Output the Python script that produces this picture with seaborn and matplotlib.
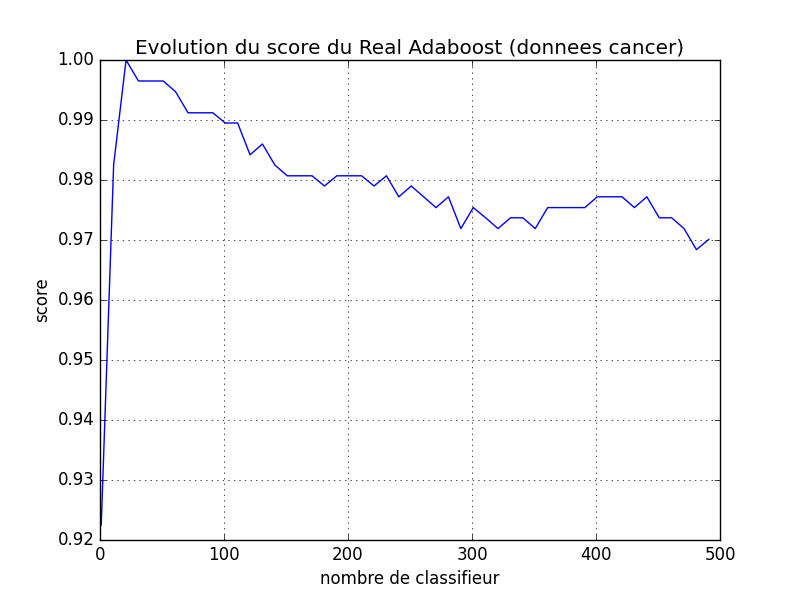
import matplotlib
matplotlib.use("Agg")
import matplotlib.pyplot as plt
import seaborn as sns
import pandas as pd

n_classif = list(range(1, 500, 10))
scores = [0.9225, 0.9825, 1.0, 0.9965, 0.9965, 0.9965, 0.9947, 0.9912, 0.9912, 0.9912,
          0.9895, 0.9895, 0.9842, 0.986, 0.9825, 0.9807, 0.9807, 0.9807, 0.979, 0.9807,
          0.9807, 0.9807, 0.979, 0.9807, 0.9772, 0.979, 0.9772, 0.9754, 0.9772, 0.9719,
          0.9754, 0.9737, 0.9719, 0.9737, 0.9737, 0.9719, 0.9754, 0.9754, 0.9754, 0.9754,
          0.9772, 0.9772, 0.9772, 0.9754, 0.9772, 0.9737, 0.9737, 0.9719, 0.9684, 0.9701]

df = pd.DataFrame({"n": n_classif, "score": scores})

plt.style.use("classic")
fig, ax = plt.subplots(figsize=(8, 6), dpi=100)
fig.patch.set_facecolor("white")
sns.lineplot(data=df, x="n", y="score", color="blue", linewidth=1, ax=ax)
ax.set_xlim(0, 500)
ax.set_ylim(0.92, 1.0)
ax.grid(True, color="black", linestyle=":")
ax.set_xlabel("nombre de classifieur")
ax.set_ylabel("score")
ax.set_title("Evolution du score du Real Adaboost (donnees cancer)")
fig.savefig("out.png")
